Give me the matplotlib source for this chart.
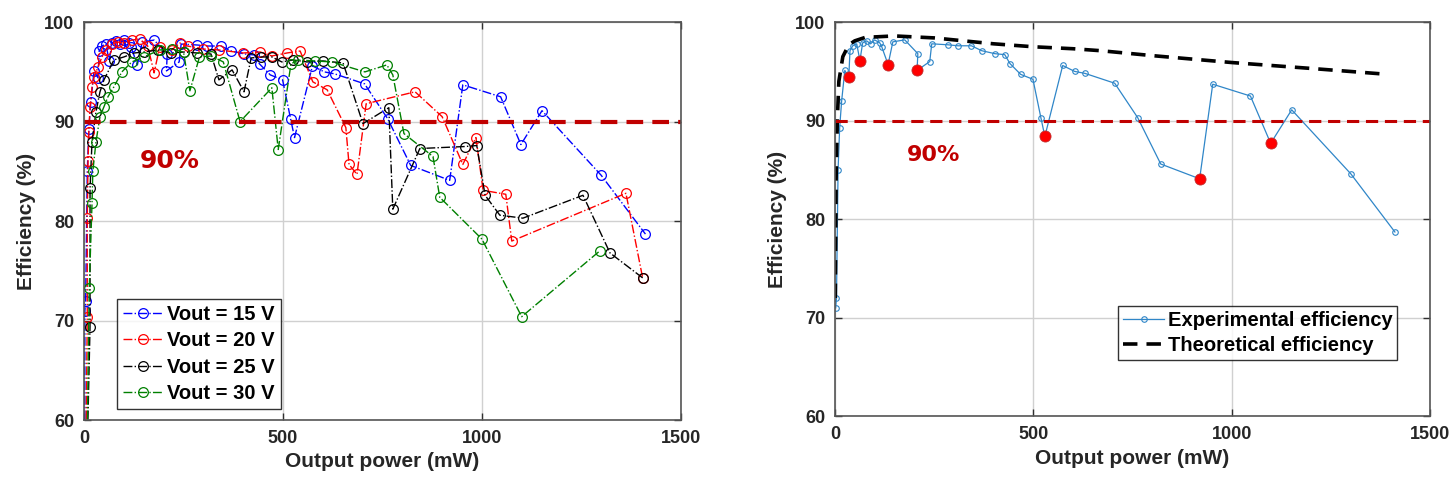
import matplotlib
matplotlib.use("Agg")
import matplotlib.pyplot as plt

plt.rcParams['font.family'] = ['Liberation Sans', 'DejaVu Sans']

# ---------------- data ----------------
# Vout = 15 V (also the "Experimental efficiency" series)
p15 = [2, 2, 4, 8, 12, 17, 25, 35, 38, 45, 55, 63, 70, 80, 90, 100, 113, 118, 134, 146, 176, 209, 207, 239, 244,
       285, 310, 344, 370, 403, 428, 441, 468, 499, 519, 529, 574, 604, 630, 705, 763, 821, 919, 952, 1047,
       1098, 1151, 1300, 1411]
e15 = [50, 71, 72, 85, 89.3, 92, 95.1, 94.4, 97.1, 97.6, 97.8, 96.1, 97.9, 98.1, 97.8, 98.2, 97.9, 97.5, 95.7, 98.0,
       98.2, 96.8, 95.1, 96.0, 97.8, 97.7, 97.6, 97.6, 97.1, 96.8, 96.7, 95.8, 94.7, 94.2, 90.3, 88.4, 95.6,
       95.0, 94.8, 93.8, 90.3, 85.6, 84.1, 93.7, 92.5, 87.7, 91.1, 84.6, 78.7]

p20 = [3, 8, 8, 10, 12, 15, 20, 25, 35, 45, 55, 70, 85, 100, 120, 140, 160, 176, 190, 220, 241, 260, 300, 340,
       400, 443, 472, 510, 543, 575, 611, 658, 666, 686, 709, 832, 900, 952, 985, 1003, 1060, 1075, 1362, 1404]
e20 = [50, 70.4, 80.3, 86, 89, 91.5, 93.5, 94.5, 95.5, 96.5, 97.2, 97.8, 98.0, 97.9, 98.2, 98.3, 97.6, 94.9, 97.5,
       97.2, 97.9, 97.6, 97.3, 97.2, 96.9, 97.0, 96.6, 96.9, 97.1, 94.0, 93.2, 89.4, 85.7, 84.7, 91.8, 93.0,
       90.5, 85.7, 88.4, 83.1, 82.7, 78.0, 82.8, 74.3]

p25 = [4, 15, 15, 20, 30, 40, 50, 75, 100, 126, 150, 185, 219, 251, 284, 319, 339, 372, 402, 420, 445, 472, 497,
       525, 560, 600, 651, 701, 766, 776, 844, 957, 987, 1008, 1045, 1103, 1254, 1322, 1404]
e25 = [50, 69.4, 83.3, 88, 91, 93, 94.2, 96.2, 96.5, 96.9, 97.0, 97.2, 96.9, 97.0, 96.9, 96.8, 94.2, 95.2, 93.0,
       96.4, 96.5, 96.5, 96.0, 96.2, 96.0, 96.1, 95.9, 89.8, 91.4, 81.2, 87.3, 87.5, 87.6, 82.6, 80.6, 80.3,
       82.6, 76.8, 74.3]

p30 = [5, 13, 20, 22, 30, 40, 50, 60, 75, 95, 120, 150, 190, 220, 250, 266, 290, 320, 350, 392, 472, 488, 520,
       538, 580, 623, 706, 761, 776, 804, 877, 894, 1000, 1100, 1296]
e30 = [50, 73.3, 81.8, 85, 88, 90.5, 91.5, 92.5, 93.5, 95.0, 96.0, 96.5, 97.2, 97.3, 97.0, 93.1, 96.5, 96.6, 96.0,
       90.0, 93.4, 87.2, 95.8, 96.2, 96.1, 96.0, 95.0, 95.7, 94.7, 88.8, 86.5, 82.4, 78.2, 70.4, 77.0]

# highlighted experimental points
hp = [35, 63, 134, 207, 529, 919, 1098]
he = [94.4, 96.1, 95.7, 95.1, 88.4, 84.1, 87.7]

# theoretical efficiency
tp = [1, 3, 6, 10, 20, 35, 50, 80, 100, 150, 250, 400, 500, 600, 670, 800, 1000, 1200, 1393]
te = [72, 84, 90, 94, 96.5, 97.7, 98.1, 98.5, 98.5, 98.6, 98.4, 97.8, 97.5, 97.3, 97.1, 96.6, 95.9, 95.3, 94.7]

series_labels = ['Vout = 15 V', 'Vout = 20 V', 'Vout = 25 V', 'Vout = 30 V']
series_colors = ['#0000ff', '#ff0000', '#000000', '#008000']

xticks = [0, 500, 1000, 1500]
yticks = [60, 70, 80, 90, 100]

# ---------------- figure ----------------
fig = plt.figure(figsize=(14.52, 4.92), dpi=100)
ax1 = fig.add_axes([0.0579, 0.146, 0.411, 0.809])
ax2 = fig.add_axes([0.575, 0.154, 0.410, 0.801])


def style(ax):
    ax.set_xlim(0, 1500)
    ax.set_ylim(60, 100)
    ax.set_xticks(xticks)
    ax.set_yticks(yticks)
    ax.grid(True, color='#d0d0d0', linewidth=1.0)
    ax.set_axisbelow(True)
    ax.tick_params(direction='in', top=True, right=True, length=5, width=1,
                   color='#303030', labelsize=13, pad=7)
    for lab in ax.get_xticklabels() + ax.get_yticklabels():
        lab.set_fontweight('bold')
        lab.set_color('#262626')
    for s in ax.spines.values():
        s.set_color('#555555')
        s.set_linewidth(1.2)
    ax.set_xlabel('Output power (mW)', fontsize=15, fontweight='bold', color='#262626', labelpad=4)
    ax.set_ylabel('Efficiency (%)', fontsize=15, fontweight='bold', color='#262626', labelpad=6)


# left panel
for p, e, lab, c in zip([p15, p20, p25, p30], [e15, e20, e25, e30], series_labels, series_colors):
    ax1.plot(p, e, linestyle='-.', color=c, linewidth=1.0, marker='o', markersize=7,
             markerfacecolor='none', markeredgecolor=c, markeredgewidth=0.9, label=lab)
ax1.axhline(90, color='#c00000', linestyle=(0, (4, 2.2)), linewidth=3)
ax1.text(140, 86.0, '90%', color='#c00000', fontsize=18, fontweight='bold', va='center', ha='left',
         family='DejaVu Sans')
style(ax1)
leg1 = ax1.legend(loc='lower left', bbox_to_anchor=(0.055, 0.028), frameon=True, fancybox=False,
                  edgecolor='#000000', prop={'weight': 'bold', 'size': 14.5}, handlelength=2.0,
                  borderpad=0.3, labelspacing=0.36, handletextpad=0.2, borderaxespad=0.0)
leg1.get_frame().set_linewidth(1.0)

# right panel
ax2.plot(p15[1:], e15[1:], color='#2f86c8', linewidth=0.9, marker='o', markersize=4,
         markerfacecolor='none', markeredgecolor='#2f86c8', markeredgewidth=0.8,
         label='Experimental efficiency')
ax2.plot(tp, te, color='black', linestyle=(0, (4, 2.5)), linewidth=2.6, label='Theoretical efficiency')
ax2.plot(hp, he, linestyle='none', marker='o', markersize=8, color='#ff0000',
         markeredgecolor='#c03030', markeredgewidth=0.6)
ax2.axhline(90, color='#c00000', linestyle=(0, (4, 2.2)), linewidth=2.2)
ax2.text(182, 86.5, '90%', color='#c00000', fontsize=16, fontweight='bold', va='center', ha='left',
         family='DejaVu Sans')
style(ax2)
leg2 = ax2.legend(loc='lower right', bbox_to_anchor=(0.945, 0.142), frameon=True, fancybox=False,
                  edgecolor='#000000', prop={'weight': 'bold', 'size': 14.5}, handlelength=2.0,
                  borderpad=0.25, labelspacing=0.3, handletextpad=0.2, borderaxespad=0.0)
leg2.get_frame().set_linewidth(1.0)

fig.savefig('out.png', dpi=100)
